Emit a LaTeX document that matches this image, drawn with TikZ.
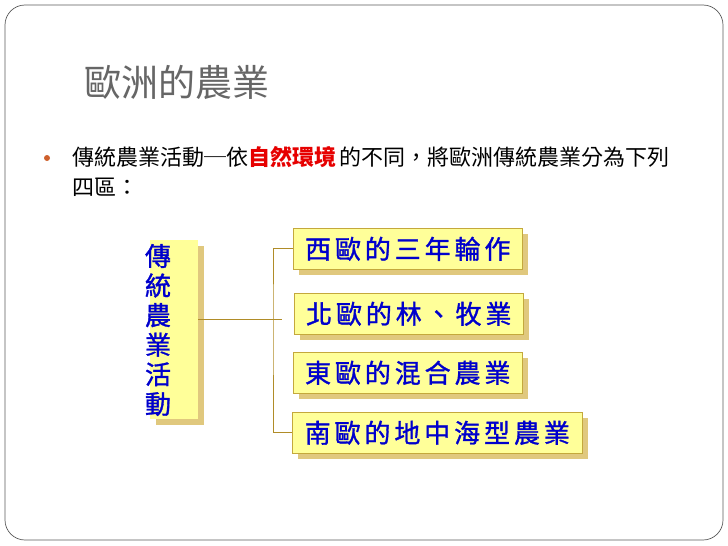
\documentclass[tikz,border=0pt]{standalone}
\usepackage{fontspec}
\setmainfont{Noto Sans CJK TC}
\newfontfamily\boxfont[LetterSpace=15,FakeBold=1.2]{Noto Sans CJK TC}
\newfontfamily\rootfont[FakeBold=1.2]{Noto Sans CJK TC}
\usetikzlibrary{positioning,calc,shadows}
\definecolor{frame}{RGB}{90,90,90}
\definecolor{titlegray}{RGB}{102,102,102}
\definecolor{bulletdot}{RGB}{206,96,44}
\definecolor{hilite}{RGB}{230,0,0}
\definecolor{boxfill}{RGB}{255,255,153}
\definecolor{boxedge}{RGB}{196,168,60}
\definecolor{shadowtan}{RGB}{224,200,126}
\definecolor{boxtext}{RGB}{0,0,204}
\definecolor{linkgold}{RGB}{176,140,40}

\begin{document}
\begin{tikzpicture}[
  x=1pt, y=-1pt,
  region/.style={draw=boxedge, fill=boxfill, line width=0.6pt, inner sep=0pt,
    minimum height=41pt, anchor=north west, text=boxtext, font=\boxfont\fontsize{26}{28}\selectfont,
    drop shadow={shadow xshift=6pt, shadow yshift=-6pt, fill=shadowtan, opacity=1}},
  link/.style={draw=linkgold, line width=0.8pt},
]
\useasboundingbox (0,0) rectangle (728,546);
% ------------------------------------------------------------------ slide
\draw[frame, line width=0.7pt, rounded corners=20pt] (5,5) rectangle (723,540);
\node[anchor=west, text=titlegray, font=\fontsize{37}{40}\selectfont] (title) at (81,82) {歐洲的農業};
\fill[bulletdot] (47,158) circle (3pt);
\node[anchor=north west, align=left, inner sep=0pt, font=\fontsize{22}{30}\selectfont] (intro) at (72,146)
  {傳統農業活動─依{\bfseries\color{hilite}自然環境}\,的不同，將歐洲傳統農業分為下列\\四區：};

% ------------------------------------------------------------------ nodes
\node[fill=boxfill, inner sep=0pt, minimum width=48pt, minimum height=179pt, anchor=north west,
  drop shadow={shadow xshift=6pt, shadow yshift=-6pt, fill=shadowtan, opacity=1}] (rootbox) at (150,240) {};
\node[text=boxtext, align=center, inner sep=0pt, font=\rootfont\fontsize{26}{29.6}\selectfont] (roottext) at (158,330)
  {傳\\統\\農\\業\\活\\動};

\node[region, minimum width=229pt] (westbox)  at (293,228) {西歐的三年輪作};
\node[region, minimum width=229pt] (northbox) at (294,293) {北歐的林、牧業};
\node[region, minimum width=229pt] (eastbox)  at (293,352) {東歐的混合農業};
\node[region, minimum width=290pt] (southbox) at (292,412) {南歐的地中海型農業};

% ------------------------------------------------------------------ connectors
\coordinate (trunk) at (273,319);
\coordinate (stub) at (282,319);
\draw[link] (rootbox.east |- stub) -- (stub);
\draw[link] (westbox.west) -| (trunk) |- (southbox.west);
\end{tikzpicture}
\end{document}
